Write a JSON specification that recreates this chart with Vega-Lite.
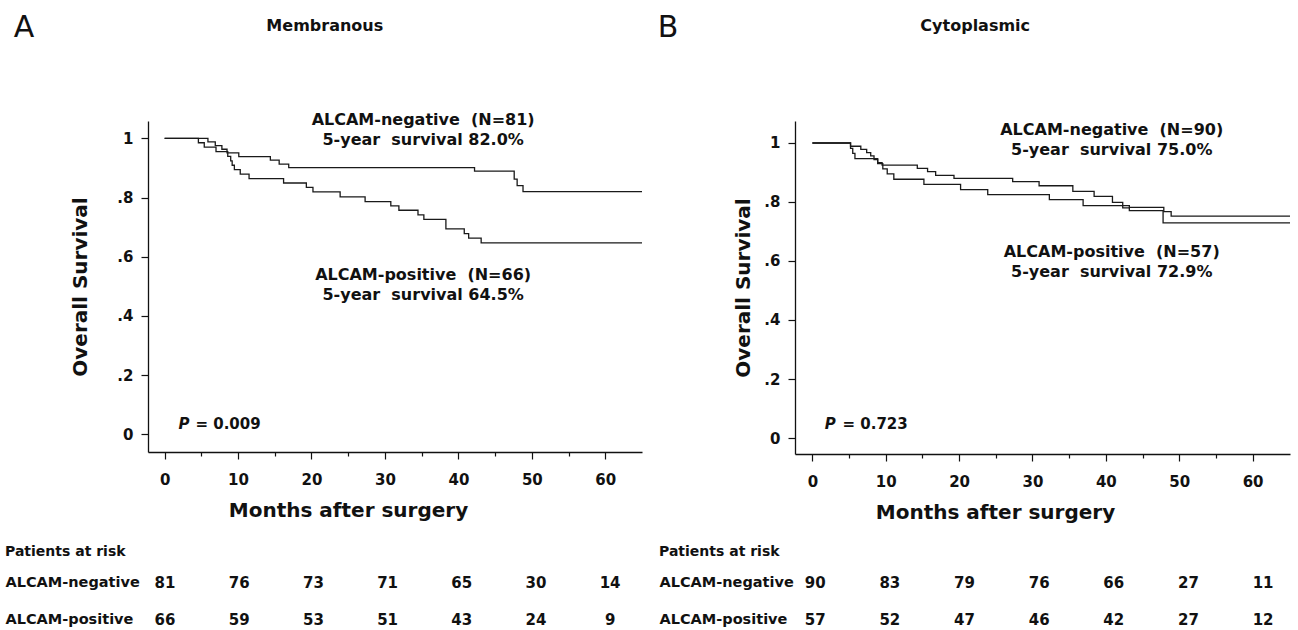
{
  "$schema": "https://vega.github.io/schema/vega-lite/v6.json",
  "background": "white",
  "padding": {"top": 12, "left": 5, "right": 5, "bottom": 5},
  "config": {
    "font": "DejaVu Sans",
    "view": {"stroke": null},
    "axis": {"domainColor": "#111", "tickColor": "#111", "labelColor": "#111", "titleColor": "#111", "labelFontWeight": "bold", "titleFontWeight": "bold", "grid": false, "domainWidth": 1.3, "tickWidth": 1.2, "labelFont": "DejaVu Sans", "titleFont": "DejaVu Sans"},
    "title": {"color": "#111", "font": "DejaVu Sans"}
  },
  "datasets": {
    "curves": [
      {"panel": "A", "group": "ALCAM-negative", "month": 0, "survival": 1.0},
      {"panel": "A", "group": "ALCAM-negative", "month": 5.9, "survival": 0.988},
      {"panel": "A", "group": "ALCAM-negative", "month": 6.9, "survival": 0.975},
      {"panel": "A", "group": "ALCAM-negative", "month": 7.8, "survival": 0.963},
      {"panel": "A", "group": "ALCAM-negative", "month": 8.5, "survival": 0.951},
      {"panel": "A", "group": "ALCAM-negative", "month": 10.1, "survival": 0.938},
      {"panel": "A", "group": "ALCAM-negative", "month": 14.4, "survival": 0.926},
      {"panel": "A", "group": "ALCAM-negative", "month": 15.6, "survival": 0.913},
      {"panel": "A", "group": "ALCAM-negative", "month": 16.9, "survival": 0.901},
      {"panel": "A", "group": "ALCAM-negative", "month": 42.2, "survival": 0.889},
      {"panel": "A", "group": "ALCAM-negative", "month": 47.6, "survival": 0.862},
      {"panel": "A", "group": "ALCAM-negative", "month": 48.0, "survival": 0.84},
      {"panel": "A", "group": "ALCAM-negative", "month": 48.8, "survival": 0.82},
      {"panel": "A", "group": "ALCAM-negative", "month": 65.0, "survival": 0.82},
      {"panel": "A", "group": "ALCAM-positive", "month": 0, "survival": 1.0},
      {"panel": "A", "group": "ALCAM-positive", "month": 4.6, "survival": 0.985},
      {"panel": "A", "group": "ALCAM-positive", "month": 5.4, "survival": 0.97},
      {"panel": "A", "group": "ALCAM-positive", "month": 7.0, "survival": 0.955},
      {"panel": "A", "group": "ALCAM-positive", "month": 8.6, "survival": 0.939},
      {"panel": "A", "group": "ALCAM-positive", "month": 9.0, "survival": 0.924},
      {"panel": "A", "group": "ALCAM-positive", "month": 9.2, "survival": 0.909},
      {"panel": "A", "group": "ALCAM-positive", "month": 9.5, "survival": 0.894},
      {"panel": "A", "group": "ALCAM-positive", "month": 10.3, "survival": 0.879},
      {"panel": "A", "group": "ALCAM-positive", "month": 11.5, "survival": 0.864},
      {"panel": "A", "group": "ALCAM-positive", "month": 16.2, "survival": 0.849},
      {"panel": "A", "group": "ALCAM-positive", "month": 19.3, "survival": 0.834},
      {"panel": "A", "group": "ALCAM-positive", "month": 20.2, "survival": 0.819},
      {"panel": "A", "group": "ALCAM-positive", "month": 23.9, "survival": 0.802},
      {"panel": "A", "group": "ALCAM-positive", "month": 27.3, "survival": 0.786},
      {"panel": "A", "group": "ALCAM-positive", "month": 30.8, "survival": 0.772},
      {"panel": "A", "group": "ALCAM-positive", "month": 31.9, "survival": 0.757},
      {"panel": "A", "group": "ALCAM-positive", "month": 34.5, "survival": 0.741},
      {"panel": "A", "group": "ALCAM-positive", "month": 35.3, "survival": 0.726},
      {"panel": "A", "group": "ALCAM-positive", "month": 38.3, "survival": 0.694},
      {"panel": "A", "group": "ALCAM-positive", "month": 40.8, "survival": 0.678},
      {"panel": "A", "group": "ALCAM-positive", "month": 41.4, "survival": 0.663},
      {"panel": "A", "group": "ALCAM-positive", "month": 43.1, "survival": 0.647},
      {"panel": "A", "group": "ALCAM-positive", "month": 65.0, "survival": 0.647},
      {"panel": "B", "group": "ALCAM-negative", "month": 0, "survival": 1.0},
      {"panel": "B", "group": "ALCAM-negative", "month": 5.2, "survival": 0.989},
      {"panel": "B", "group": "ALCAM-negative", "month": 6.6, "survival": 0.978},
      {"panel": "B", "group": "ALCAM-negative", "month": 7.4, "survival": 0.967},
      {"panel": "B", "group": "ALCAM-negative", "month": 7.95, "survival": 0.956},
      {"panel": "B", "group": "ALCAM-negative", "month": 8.4, "survival": 0.944},
      {"panel": "B", "group": "ALCAM-negative", "month": 8.9, "survival": 0.933},
      {"panel": "B", "group": "ALCAM-negative", "month": 9.5, "survival": 0.925},
      {"panel": "B", "group": "ALCAM-negative", "month": 14.3, "survival": 0.914},
      {"panel": "B", "group": "ALCAM-negative", "month": 15.7, "survival": 0.903},
      {"panel": "B", "group": "ALCAM-negative", "month": 16.8, "survival": 0.89},
      {"panel": "B", "group": "ALCAM-negative", "month": 19.3, "survival": 0.88},
      {"panel": "B", "group": "ALCAM-negative", "month": 27.3, "survival": 0.869},
      {"panel": "B", "group": "ALCAM-negative", "month": 30.9, "survival": 0.855},
      {"panel": "B", "group": "ALCAM-negative", "month": 35.5, "survival": 0.836},
      {"panel": "B", "group": "ALCAM-negative", "month": 38.4, "survival": 0.819},
      {"panel": "B", "group": "ALCAM-negative", "month": 40.9, "survival": 0.799},
      {"panel": "B", "group": "ALCAM-negative", "month": 42.3, "survival": 0.788},
      {"panel": "B", "group": "ALCAM-negative", "month": 43.2, "survival": 0.782},
      {"panel": "B", "group": "ALCAM-negative", "month": 47.9, "survival": 0.767},
      {"panel": "B", "group": "ALCAM-negative", "month": 48.9, "survival": 0.752},
      {"panel": "B", "group": "ALCAM-negative", "month": 65.1, "survival": 0.752},
      {"panel": "B", "group": "ALCAM-positive", "month": 0, "survival": 1.0},
      {"panel": "B", "group": "ALCAM-positive", "month": 5.2, "survival": 0.982},
      {"panel": "B", "group": "ALCAM-positive", "month": 5.5, "survival": 0.965},
      {"panel": "B", "group": "ALCAM-positive", "month": 5.8, "survival": 0.947},
      {"panel": "B", "group": "ALCAM-positive", "month": 8.9, "survival": 0.93},
      {"panel": "B", "group": "ALCAM-positive", "month": 9.6, "survival": 0.912},
      {"panel": "B", "group": "ALCAM-positive", "month": 10.2, "survival": 0.895},
      {"panel": "B", "group": "ALCAM-positive", "month": 11.1, "survival": 0.877},
      {"panel": "B", "group": "ALCAM-positive", "month": 15.2, "survival": 0.86},
      {"panel": "B", "group": "ALCAM-positive", "month": 20.2, "survival": 0.842},
      {"panel": "B", "group": "ALCAM-positive", "month": 23.9, "survival": 0.825},
      {"panel": "B", "group": "ALCAM-positive", "month": 32.3, "survival": 0.808},
      {"panel": "B", "group": "ALCAM-positive", "month": 36.9, "survival": 0.788},
      {"panel": "B", "group": "ALCAM-positive", "month": 42.3, "survival": 0.78},
      {"panel": "B", "group": "ALCAM-positive", "month": 43.2, "survival": 0.771},
      {"panel": "B", "group": "ALCAM-positive", "month": 47.8, "survival": 0.729},
      {"panel": "B", "group": "ALCAM-positive", "month": 65.1, "survival": 0.729}
    ],
    "notes": [
      {"panel": "A", "month": 35.2, "survival": 1.062, "text": "ALCAM-negative\u00a0 (N=81)"},
      {"panel": "A", "month": 35.2, "survival": 0.993, "text": "5-year\u00a0 survival 82.0%"},
      {"panel": "A", "month": 35.2, "survival": 0.538, "text": "ALCAM-positive\u00a0 (N=66)"},
      {"panel": "A", "month": 35.2, "survival": 0.47, "text": "5-year\u00a0 survival 64.5%"},
      {"panel": "B", "month": 40.8, "survival": 1.045, "text": "ALCAM-negative\u00a0 (N=90)"},
      {"panel": "B", "month": 40.8, "survival": 0.977, "text": "5-year\u00a0 survival 75.0%"},
      {"panel": "B", "month": 40.8, "survival": 0.632, "text": "ALCAM-positive\u00a0 (N=57)"},
      {"panel": "B", "month": 40.8, "survival": 0.564, "text": "5-year\u00a0 survival 72.9%"}
    ],
    "pvals": [
      {"panel": "A", "part": "symbol", "month": 1.9, "survival": 0.034, "text": "P"},
      {"panel": "A", "part": "value", "month": 4.2, "survival": 0.034, "text": "= 0.009"},
      {"panel": "B", "part": "symbol", "month": 1.7, "survival": 0.048, "text": "P"},
      {"panel": "B", "part": "value", "month": 4.1, "survival": 0.048, "text": "= 0.723"}
    ],
    "risk": [
      {"panel": "A", "group": "ALCAM-negative", "month": 0, "n": 81},
      {"panel": "A", "group": "ALCAM-negative", "month": 10, "n": 76},
      {"panel": "A", "group": "ALCAM-negative", "month": 20, "n": 73},
      {"panel": "A", "group": "ALCAM-negative", "month": 30, "n": 71},
      {"panel": "A", "group": "ALCAM-negative", "month": 40, "n": 65},
      {"panel": "A", "group": "ALCAM-negative", "month": 50, "n": 30},
      {"panel": "A", "group": "ALCAM-negative", "month": 60, "n": 14},
      {"panel": "A", "group": "ALCAM-positive", "month": 0, "n": 66},
      {"panel": "A", "group": "ALCAM-positive", "month": 10, "n": 59},
      {"panel": "A", "group": "ALCAM-positive", "month": 20, "n": 53},
      {"panel": "A", "group": "ALCAM-positive", "month": 30, "n": 51},
      {"panel": "A", "group": "ALCAM-positive", "month": 40, "n": 43},
      {"panel": "A", "group": "ALCAM-positive", "month": 50, "n": 24},
      {"panel": "A", "group": "ALCAM-positive", "month": 60, "n": 9},
      {"panel": "B", "group": "ALCAM-negative", "month": 0, "n": 90},
      {"panel": "B", "group": "ALCAM-negative", "month": 10, "n": 83},
      {"panel": "B", "group": "ALCAM-negative", "month": 20, "n": 79},
      {"panel": "B", "group": "ALCAM-negative", "month": 30, "n": 76},
      {"panel": "B", "group": "ALCAM-negative", "month": 40, "n": 66},
      {"panel": "B", "group": "ALCAM-negative", "month": 50, "n": 27},
      {"panel": "B", "group": "ALCAM-negative", "month": 60, "n": 11},
      {"panel": "B", "group": "ALCAM-positive", "month": 0, "n": 57},
      {"panel": "B", "group": "ALCAM-positive", "month": 10, "n": 52},
      {"panel": "B", "group": "ALCAM-positive", "month": 20, "n": 47},
      {"panel": "B", "group": "ALCAM-positive", "month": 30, "n": 46},
      {"panel": "B", "group": "ALCAM-positive", "month": 40, "n": 42},
      {"panel": "B", "group": "ALCAM-positive", "month": 50, "n": 27},
      {"panel": "B", "group": "ALCAM-positive", "month": 60, "n": 12}
    ]
  },
  "spacing": 12,
  "hconcat": [
    {
      "title": {"text": "Membranous", "anchor": "middle", "frame": "bounds", "fontSize": 16, "fontWeight": "bold", "offset": -21},
      "spacing": 25,
      "vconcat": [
        {
          "width": 494,
          "height": 331,
          "title": {"text": "A", "anchor": "start", "frame": "bounds", "fontSize": 30, "fontWeight": "normal", "dx": -57, "offset": 69},
          "layer": [
            {
              "data": {"name": "curves"},
              "transform": [{"filter": "datum.panel === 'A'"}],
              "mark": {"type": "line", "interpolate": "step-after", "color": "#1a1a1a", "strokeWidth": 1.3},
              "encoding": {
                "x": {"field": "month", "type": "quantitative", "scale": {"domain": [-2.26, 65], "nice": false, "zero": false},
                  "axis": {"title": "Months after surgery", "values": [0,2.5,5,7.5,10,12.5,15,17.5,20,22.5,25,27.5,30,32.5,35,37.5,40,42.5,45,47.5,50,52.5,55,57.5,60,62.5],
                    "labelExpr": "datum.value % 10 === 0 ? datum.label : ''",
                    "tickSize": {"condition": {"test": "datum.value % 10 === 0", "value": 7}, "value": 4},
                    "labelPadding": 13, "labelFontSize": 15, "labelFlush": false, "labelOverlap": false, "labelBound": false,
                    "titleFontSize": 20, "titlePadding": 13, "titleX": 200}},
                "y": {"field": "survival", "type": "quantitative", "scale": {"domain": [-0.0599, 1.0585], "nice": false, "zero": false},
                  "axis": {"title": "Overall Survival", "values": [0,0.1,0.2,0.3,0.4,0.5,0.6,0.7,0.8,0.9,1],
                    "labelExpr": "round(datum.value*10) % 2 === 1 ? '' : (datum.value < 0.01 ? '0' : (datum.value > 0.99 ? '1' : replace(format(datum.value, '.1f'), '0.', '.')))",
                    "tickSize": {"condition": {"test": "round(datum.value*10) % 2 === 0", "value": 7}, "value": 4},
                    "labelPadding": 8, "labelFontSize": 15, "labelOverlap": false, "labelBound": false,
                    "titleFontSize": 20, "titlePadding": 26}},
                "detail": {"field": "group"}
              }
            },
            {
              "data": {"name": "notes"},
              "transform": [{"filter": "datum.panel === 'A'"}],
              "mark": {"type": "text", "fontSize": 16, "fontWeight": "bold", "align": "center", "baseline": "middle", "color": "#111"},
              "encoding": {
                "x": {"field": "month", "type": "quantitative"},
                "y": {"field": "survival", "type": "quantitative"},
                "text": {"field": "text"}
              }
            },
            {
              "data": {"name": "pvals"},
              "transform": [{"filter": "datum.panel === 'A' && datum.part === 'symbol'"}],
              "mark": {"type": "text", "fontSize": 15, "fontWeight": "bold", "fontStyle": "italic", "align": "left", "baseline": "middle", "color": "#111"},
              "encoding": {
                "x": {"field": "month", "type": "quantitative"},
                "y": {"field": "survival", "type": "quantitative"},
                "text": {"field": "text"}
              }
            },
            {
              "data": {"name": "pvals"},
              "transform": [{"filter": "datum.panel === 'A' && datum.part === 'value'"}],
              "mark": {"type": "text", "fontSize": 15, "fontWeight": "bold", "align": "left", "baseline": "middle", "color": "#111"},
              "encoding": {
                "x": {"field": "month", "type": "quantitative"},
                "y": {"field": "survival", "type": "quantitative"},
                "text": {"field": "text"}
              }
            }
          ]
        },
        {
          "width": 494,
          "height": 74,
          "title": {"text": "Patients at risk", "anchor": "start", "frame": "bounds", "fontSize": 14, "fontWeight": "bold", "offset": 5},
          "data": {"name": "risk"},
          "transform": [{"filter": "datum.panel === 'A'"}],
          "mark": {"type": "text", "fontSize": 15, "fontWeight": "bold", "align": "center", "baseline": "middle", "color": "#111"},
          "encoding": {
            "x": {"field": "month", "type": "quantitative", "scale": {"domain": [-2.3, 64.3], "nice": false, "zero": false}, "axis": null},
            "y": {"field": "group", "type": "nominal", "sort": ["ALCAM-negative", "ALCAM-positive"], "scale": {"type": "point", "padding": 0.5},
              "axis": {"title": null, "domain": false, "ticks": false, "tickSize": 0, "labelAlign": "left", "labelBaseline": "middle", "labelPadding": 143, "labelFontSize": 14.5, "labelFontWeight": "bold"}},
            "text": {"field": "n", "type": "quantitative"}
          }
        }
      ]
    },
    {
      "title": {"text": "Cytoplasmic", "anchor": "middle", "frame": "bounds", "fontSize": 16, "fontWeight": "bold", "offset": -21},
      "spacing": 23,
      "vconcat": [
        {
          "width": 495,
          "height": 333,
          "title": {"text": "B", "anchor": "start", "frame": "bounds", "fontSize": 30, "fontWeight": "normal", "dx": -76, "offset": 78},
          "layer": [
            {
              "data": {"name": "curves"},
              "transform": [{"filter": "datum.panel === 'B'"}],
              "mark": {"type": "line", "interpolate": "step-after", "color": "#1a1a1a", "strokeWidth": 1.3},
              "encoding": {
                "x": {"field": "month", "type": "quantitative", "scale": {"domain": [-2.37, 65.1], "nice": false, "zero": false},
                  "axis": {"title": "Months after surgery", "values": [0,2.5,5,7.5,10,12.5,15,17.5,20,22.5,25,27.5,30,32.5,35,37.5,40,42.5,45,47.5,50,52.5,55,57.5,60,62.5],
                    "labelExpr": "datum.value % 10 === 0 ? datum.label : ''",
                    "tickSize": {"condition": {"test": "datum.value % 10 === 0", "value": 7}, "value": 4},
                    "labelPadding": 13, "labelFontSize": 15, "labelFlush": false, "labelOverlap": false, "labelBound": false,
                    "titleFontSize": 20, "titlePadding": 13, "titleX": 200}},
                "y": {"field": "survival", "type": "quantitative", "scale": {"domain": [-0.0542, 1.0745], "nice": false, "zero": false},
                  "axis": {"title": "Overall Survival", "values": [0,0.1,0.2,0.3,0.4,0.5,0.6,0.7,0.8,0.9,1],
                    "labelExpr": "round(datum.value*10) % 2 === 1 ? '' : (datum.value < 0.01 ? '0' : (datum.value > 0.99 ? '1' : replace(format(datum.value, '.1f'), '0.', '.')))",
                    "tickSize": {"condition": {"test": "round(datum.value*10) % 2 === 0", "value": 7}, "value": 4},
                    "labelPadding": 8, "labelFontSize": 15, "labelOverlap": false, "labelBound": false,
                    "titleFontSize": 20, "titlePadding": 10}},
                "detail": {"field": "group"}
              }
            },
            {
              "data": {"name": "notes"},
              "transform": [{"filter": "datum.panel === 'B'"}],
              "mark": {"type": "text", "fontSize": 16, "fontWeight": "bold", "align": "center", "baseline": "middle", "color": "#111"},
              "encoding": {
                "x": {"field": "month", "type": "quantitative"},
                "y": {"field": "survival", "type": "quantitative"},
                "text": {"field": "text"}
              }
            },
            {
              "data": {"name": "pvals"},
              "transform": [{"filter": "datum.panel === 'B' && datum.part === 'symbol'"}],
              "mark": {"type": "text", "fontSize": 15, "fontWeight": "bold", "fontStyle": "italic", "align": "left", "baseline": "middle", "color": "#111"},
              "encoding": {
                "x": {"field": "month", "type": "quantitative"},
                "y": {"field": "survival", "type": "quantitative"},
                "text": {"field": "text"}
              }
            },
            {
              "data": {"name": "pvals"},
              "transform": [{"filter": "datum.panel === 'B' && datum.part === 'value'"}],
              "mark": {"type": "text", "fontSize": 15, "fontWeight": "bold", "align": "left", "baseline": "middle", "color": "#111"},
              "encoding": {
                "x": {"field": "month", "type": "quantitative"},
                "y": {"field": "survival", "type": "quantitative"},
                "text": {"field": "text"}
              }
            }
          ]
        },
        {
          "width": 495,
          "height": 74,
          "title": {"text": "Patients at risk", "anchor": "start", "frame": "bounds", "fontSize": 14, "fontWeight": "bold", "offset": 5},
          "data": {"name": "risk"},
          "transform": [{"filter": "datum.panel === 'B'"}],
          "mark": {"type": "text", "fontSize": 15, "fontWeight": "bold", "align": "center", "baseline": "middle", "color": "#111"},
          "encoding": {
            "x": {"field": "month", "type": "quantitative", "scale": {"domain": [-2.7, 63.6], "nice": false, "zero": false}, "axis": null},
            "y": {"field": "group", "type": "nominal", "sort": ["ALCAM-negative", "ALCAM-positive"], "scale": {"type": "point", "padding": 0.5},
              "axis": {"title": null, "domain": false, "ticks": false, "tickSize": 0, "labelAlign": "left", "labelBaseline": "middle", "labelPadding": 136, "labelFontSize": 14.5, "labelFontWeight": "bold"}},
            "text": {"field": "n", "type": "quantitative"}
          }
        }
      ]
    }
  ]
}
